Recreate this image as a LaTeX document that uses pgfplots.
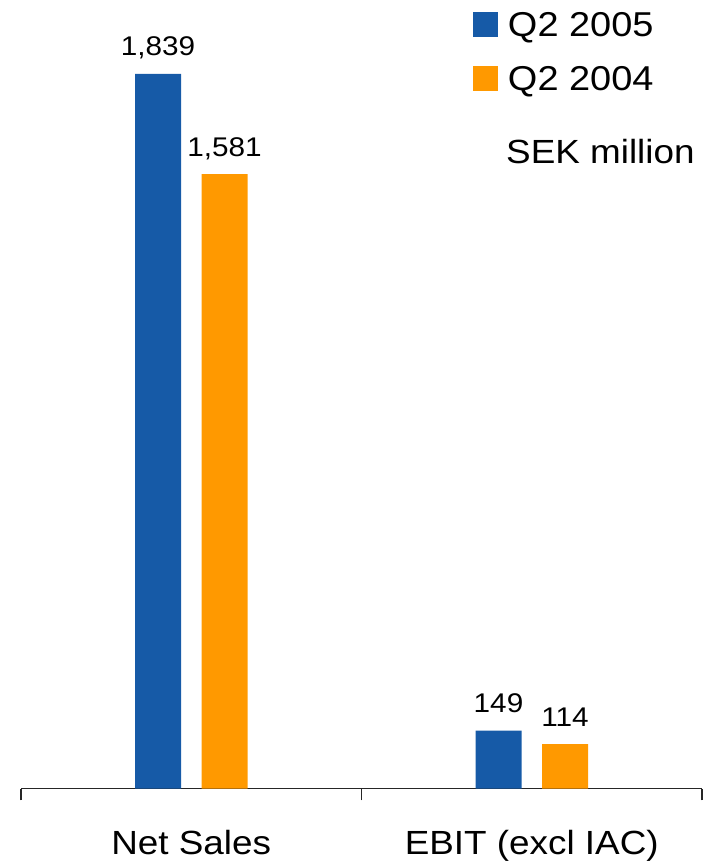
\documentclass[border=0pt]{standalone}
\usepackage{fontspec}
\setmainfont{Liberation Sans}[FakeStretch=1.1]
\usepackage{pgfplots}
\pgfplotsset{compat=1.18}
\definecolor{qblue}{RGB}{22,90,167}
\definecolor{qorange}{RGB}{255,153,0}
\begin{document}
\begin{tikzpicture}
\path[use as bounding box] (-21pt,-74.5pt) rectangle (689pt,788.5pt);
\begin{axis}[
  at={(0pt,0pt)}, anchor=south west,
  scale only axis, width=681pt, height=714.5pt,
  xmin=-0.5, xmax=1.5, ymin=0, ymax=1839,
  clip=false,
  axis lines*=left,
  y axis line style={draw=none}, ytick=\empty,
  x axis line style={line width=1.5pt, draw=black!85},
  xtick={0,1}, xticklabels={Net Sales, EBIT (excl IAC)},
  major tick length=0pt,
  minor xtick={-0.5,0.5,1.5}, minor tick length=12pt, tick align=outside,
  minor tick style={line width=1.5pt, draw=black!85},
  xticklabel style={font=\fontsize{33.5}{40}\selectfont, anchor=base, yshift=-65.5pt},
  ybar, bar width=46pt,
  nodes near coords, point meta=explicit symbolic,
  nodes near coords style={font=\fontsize{27}{32}\selectfont, anchor=base, yshift=18pt, text=black},
  legend image code/.code={\fill[#1,draw=none] (0pt,0pt) rectangle (25pt,25pt); \path (35pt,0pt);},
  legend style={at={(axis description cs:0.6637,1.0868)}, anchor=north west, draw=none, fill=none,
    inner sep=0pt, outer sep=0pt, row sep=29pt, column sep=0pt,
    font=\fontsize{34.5}{40}\selectfont,
    nodes={inner sep=0pt, text height=25pt, text depth=0pt},
    cells={anchor=base west}},
]
\addplot[fill=qblue, draw=none, bar shift=-33.25pt] coordinates {(0,1839)[1,839] (1,149)[149]};
\addplot[fill=qorange, draw=none, bar shift=33.25pt] coordinates {(0,1581)[1,581] (1,114)[114]};
\legend{Q2 2005, Q2 2004}
\node[anchor=base west, inner sep=0pt, font=\fontsize{33.5}{40}\selectfont] at (axis description cs:0.7122,0.8754) {SEK million};
\end{axis}
\end{tikzpicture}
\end{document}
